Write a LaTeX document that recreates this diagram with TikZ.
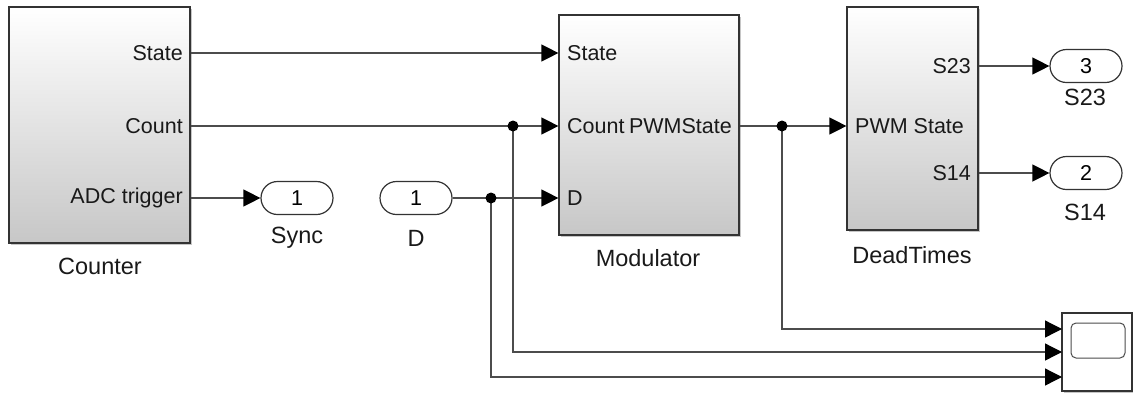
\documentclass[tikz,border=0pt]{standalone}
\usepackage{fontspec}
\setmainfont{Liberation Sans}
\usetikzlibrary{arrows.meta,shapes.misc,shadows}

\tikzset{
  blk/.style={draw=black!80, line width=1.2pt, top color=white, bottom color=black!22,
    drop shadow={shadow xshift=1.5pt, shadow yshift=-1.5pt, opacity=0.45}, inner sep=0pt},
  lbl/.style={inner sep=0pt, text=black!90},
  blkname/.style={lbl, font=\fontsize{23.5}{28}\selectfont},
  port/.style={rounded rectangle, draw=black!80, line width=1.2pt, fill=white,
    minimum width=72pt, minimum height=33pt, inner sep=0pt},
  sig/.style={draw=black!70, line width=1.3pt},
  arr/.style={sig, -{Triangle[length=17pt,width=17pt,color=black]}},
  jdot/.style={circle, fill=black, inner sep=0pt, minimum size=11pt},
}

\begin{document}
\begin{tikzpicture}[x=1pt, y=-1pt, font=\fontsize{21.5}{26}\selectfont]
        \useasboundingbox (0,0) rectangle (1133,392);

        % Counter
        \node[blk, minimum width=181pt, minimum height=236pt] (counter) at (99.5,125) {};
        \node[lbl, anchor=east] (cState) at (183,53) {State};
        \node[lbl, anchor=east] (cCount) at (183,126) {Count};
        \node[lbl, anchor=east] (cAdc) at (183,198) {ADC trigger};
        \node[blkname] (counterName) at (100,266) {Counter};

        % Modulator
        \node[blk, minimum width=180pt, minimum height=220pt] (mod) at (649,125) {};
        \node[lbl, anchor=west] (mState) at (567,53) {State};
        \node[lbl, anchor=west] (mCount) at (567,126) {Count};
        \node[lbl, anchor=east] (mPwm) at (732,126) {PWMState};
        \node[lbl, anchor=west] (mD) at (567,198) {D};
        \node[blkname] (modName) at (648,258) {Modulator};

        % DeadTimes
        \node[blk, minimum width=131pt, minimum height=223pt] (dead) at (912.5,118.5) {};
        \node[lbl, anchor=west] (dPwm) at (855,126) {PWM State};
        \node[lbl, anchor=east] (dS23) at (971,66) {S23};
        \node[lbl, anchor=east] (dS14) at (971,173) {S14};
        \node[blkname] (deadName) at (912,255) {DeadTimes};

        % ports
        \node[port] (sync) at (297,198) {1};
        \node[blkname] (syncName) at (297,238) {Sync};
        \node[port] (dIn) at (416,198) {1};
        \node[blkname] (dName) at (416,238) {D};
        \node[port] (out3) at (1086,66) {3};
        \node[blkname] (out3Name) at (1085,97) {S23};
        \node[port] (out2) at (1086,173) {2};
        \node[blkname] (out2Name) at (1085,212) {S14};

        % Scope
        \node[draw=black!80, line width=1.2pt, fill=white, minimum width=70pt, minimum height=78pt,
          drop shadow={shadow xshift=1.5pt, shadow yshift=-1.5pt, opacity=0.45}] (scope) at (1097,352) {};
        \node[draw=black!70, line width=1pt, rounded corners=5pt, minimum width=54pt, minimum height=35pt] (screen) at (1098,340.5) {};
        \coordinate (sc1) at (1062,329);
        \coordinate (sc2) at (1062,352);
        \coordinate (sc3) at (1062,377);

        % branch points
        \coordinate (j1) at (513,126);
        \coordinate (j2) at (491,198);
        \coordinate (j3) at (782,126);

        \draw[arr] (cState.east -| counter.east) -- (mState.west -| mod.west);
        \draw[sig] (cCount.east -| counter.east) -- (j1);
        \draw[arr] (j1) -- (mCount.west -| mod.west);
        \draw[arr] (cAdc.east -| counter.east) -- (sync.west);
        \draw[sig] (dIn.east) -- (j2);
        \draw[arr] (j2) -- (mD.west -| mod.west);
        \draw[sig] (mPwm.east -| mod.east) -- (j3);
        \draw[arr] (j3) -- (dPwm.west -| dead.west);
        \draw[arr] (dS23.east -| dead.east) -- (out3.west);
        \draw[arr] (dS14.east -| dead.east) -- (out2.west);
        \draw[arr] (j3) |- (sc1);
        \draw[arr] (j1) |- (sc2);
        \draw[arr] (j2) |- (sc3);

        \node[jdot] at (j1) {};
        \node[jdot] at (j2) {};
        \node[jdot] at (j3) {};
    \end{tikzpicture}
\end{document}
